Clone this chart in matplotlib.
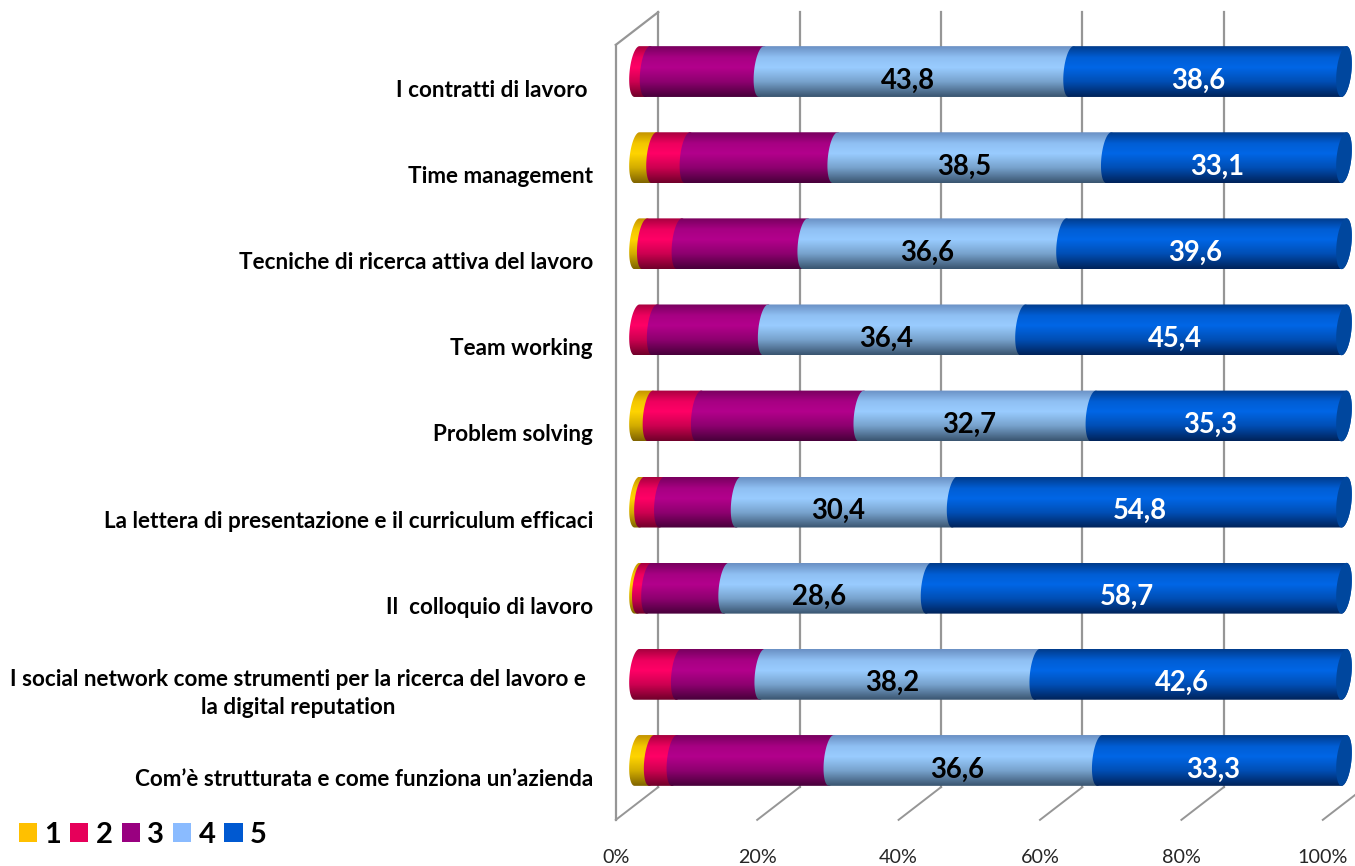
#!/usr/bin/env python3
# -*- coding: utf-8 -*-
import numpy as np
import matplotlib
matplotlib.use('Agg')
import matplotlib.pyplot as plt
from matplotlib.colors import LinearSegmentedColormap, to_rgb
from matplotlib.patches import PathPatch, Patch
from matplotlib.path import Path

plt.rcParams['font.family'] = ['Lato', 'DejaVu Sans']

categories = ['I contratti di lavoro ',
              'Time management',
              'Tecniche di ricerca attiva del lavoro',
              'Team working',
              'Problem solving',
              'La lettera di presentazione e il curriculum efficaci',
              'Il  colloquio di lavoro',
              'I social network come strumenti per la ricerca del lavoro e\nla digital reputation',
              'Com\u2019è strutturata e come funziona un\u2019azienda']

series_1 = [0.0, 2.4, 1.1, 0.0, 1.9, 0.7, 0.4, 0.0, 2.0]
series_2 = [1.5, 4.7, 4.9, 2.5, 6.8, 2.8, 1.3, 5.8, 3.1]
series_3 = [16.1, 20.8, 17.8, 15.7, 22.9, 10.8, 10.9, 11.6, 21.4]
series_4 = [43.8, 38.5, 36.6, 36.4, 32.7, 30.4, 28.6, 38.2, 36.6]
series_5 = [38.6, 33.1, 39.6, 45.4, 35.3, 54.8, 58.7, 42.6, 33.3]

series_names = ['1', '2', '3', '4', '5']
x_ticks = [0, 20, 40, 60, 80, 100]

legend_colors = ['#FFC000', '#E6005A', '#990080', '#8ABBFF', '#0059D1']
# top edge, highlight, bottom edge of each cylinder
shades = [('#C49400', '#FFD400', '#806400'),
          ('#A8003F', '#FF0066', '#70002A'),
          ('#78005F', '#B3008C', '#48003A'),
          ('#6A90C4', '#99CCFF', '#3A5570'),
          ('#003C8C', '#0066E6', '#00235A')]
cap_color = '#00479E'
grid_color = '#969696'

BAR_H = 0.59
CAP_A = 1.05    # half width of the end ellipse, in % units
CAP_S = 0.35    # tilt of the ellipse
DEPTH_X = 3.0
DEPTH_Y = 0.19


def ellipse_side(cx, y, t):
    xs = cx + CAP_A * np.cos(t) + CAP_S * np.sin(-t)
    ys = y + BAR_H / 2 * np.sin(t)
    return np.column_stack([xs, ys])


def segment_path(x0, x1, y):
    # y axis is inverted: t=-pi/2 is the top edge
    t_left = np.linspace(np.pi / 2, 3 * np.pi / 2, 40)
    t_right = np.linspace(-np.pi / 2, np.pi / 2, 40)
    pts = np.vstack([ellipse_side(x0, y, t_left), ellipse_side(x1, y, t_right)])
    return Path(np.vstack([pts, pts[:1]]), closed=True)


def draw_segment(ax, x0, x1, y, cmap, zorder):
    patch = PathPatch(segment_path(x0, x1, y), transform=ax.transData,
                      facecolor='none', edgecolor='none')
    ax.add_patch(patch)
    grad = np.linspace(0, 1, 120).reshape(-1, 1)
    im = ax.imshow(grad, cmap=cmap, aspect='auto', zorder=zorder,
                   extent=[x0 - 2, x1 + 2, y + BAR_H / 2, y - BAR_H / 2])
    im.set_clip_box(fig.bbox)
    im.set_clip_path(patch)


def cylinder_cmap(name, top, mid, bottom):
    top, mid, bottom = np.array(to_rgb(top)), np.array(to_rgb(mid)), np.array(to_rgb(bottom))
    stops = [(0, top), (0.22, top * 0.2 + mid * 0.8), (0.42, mid),
             (0.7, mid * 0.65 + bottom * 0.35), (1, bottom)]
    return LinearSegmentedColormap.from_list(name, [(p, tuple(c)) for p, c in stops])


fig = plt.figure(figsize=(13.55, 8.66), dpi=100)
ax = fig.add_axes([637 / 1355, 1 - 803.5 / 866, 707 / 1355, 775 / 866])
ax.axis('off')

# walls and floor of the 3D box
y_top, y_bot = -0.5, 8.5
for t in x_ticks:
    ax.plot([t + DEPTH_X, t + DEPTH_X], [y_top - DEPTH_Y, y_bot - DEPTH_Y],
            color=grid_color, lw=1.6, clip_on=False, zorder=1)
    ax.plot([t + DEPTH_X, t - DEPTH_X], [y_bot - DEPTH_Y, y_bot + DEPTH_Y],
            color=grid_color, lw=1.4, clip_on=False, zorder=1)
ax.plot([x_ticks[0] - DEPTH_X] * 2, [y_top + DEPTH_Y, y_bot + DEPTH_Y],
        color=grid_color, lw=1.6, clip_on=False, zorder=1)
ax.plot([x_ticks[0] + DEPTH_X, x_ticks[0] - DEPTH_X], [y_top - DEPTH_Y, y_top + DEPTH_Y],
        color=grid_color, lw=1.6, clip_on=False, zorder=1)

data = np.array([series_1, series_2, series_3, series_4, series_5])
# stacked to 100%: some rows do not add up to exactly 100
shares = data / data.sum(axis=0) * 100
cmaps = [cylinder_cmap('s%d' % i, *c) for i, c in enumerate(shades)]

for row in range(len(categories)):
    left = 0.0
    for s in range(5):
        v = shares[s, row]
        if v > 0:
            draw_segment(ax, left, left + v, row, cmaps[s], 2 + s)
        left += v
    # right end of the cylinder
    t = np.linspace(0, 2 * np.pi, 80)
    ax.add_patch(PathPatch(Path(ellipse_side(left, row, t), closed=True),
                           facecolor=cap_color, edgecolor='none', zorder=8, clip_on=False))

    # value labels for the two biggest groups
    start_4 = shares[:3, row].sum()
    ax.annotate(('%.1f' % series_4[row]).replace('.', ','),
                xy=(start_4 + shares[3, row] / 2, row), xytext=(-8, -9), textcoords='offset pixels',
                ha='center', va='center', fontsize=19.8, fontweight='bold', color='black', zorder=9)
    ax.annotate(('%.1f' % series_5[row]).replace('.', ','),
                xy=(start_4 + shares[3, row] + shares[4, row] / 2, row), xytext=(-9, -9),
                textcoords='offset pixels', ha='center', va='center', fontsize=19.8,
                fontweight='bold', color='white', zorder=9)

    # category labels, centred lines for the wrapped one
    dx = -51 if '\n' in categories[row] else -44
    ax.annotate(categories[row], xy=(0, row), xytext=(dx, -19), textcoords='offset pixels',
                ha='right', va='center', multialignment='center', fontsize=16.2, linespacing=1.45,
                fontweight='bold', color='black', annotation_clip=False)

for t in x_ticks:
    ax.annotate('%d%%' % t, xy=(t - DEPTH_X, y_bot), xytext=(0, -54), textcoords='offset pixels',
                ha='center', va='center', fontsize=14.2, color='#262626', annotation_clip=False)

ax.set_xlim(0, 100)
ax.set_ylim(y_bot, y_top)

handles = [Patch(facecolor=c, edgecolor='none', label=n) for c, n in zip(legend_colors, series_names)]
fig.legend(handles=handles, loc='lower left', bbox_to_anchor=(19 / 1355, 1 - 848 / 866), ncol=5,
           frameon=False, borderaxespad=0, borderpad=0, handlelength=0.62, handleheight=0.62,
           handletextpad=0.25, columnspacing=0.31,
           prop={'size': 21, 'weight': 'bold'})

fig.savefig('out.png', dpi=100)
